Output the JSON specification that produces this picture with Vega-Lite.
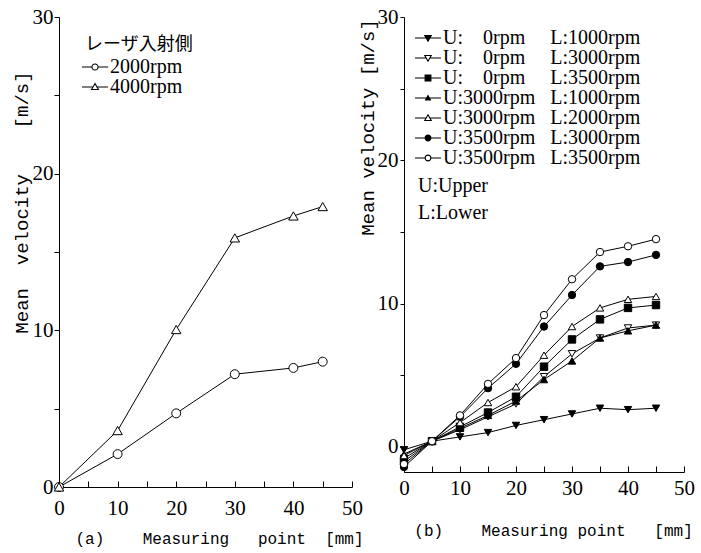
{
  "$schema": "https://vega.github.io/schema/vega-lite/v6.json",
  "padding": {"left": 12, "top": 6, "right": 5, "bottom": 5},
  "background": "white",
  "datasets": {
    "a": [
      {"x": 0, "v": 0, "s": "2000rpm"},
      {"x": 10, "v": 2.1, "s": "2000rpm"},
      {"x": 20, "v": 4.7, "s": "2000rpm"},
      {"x": 30, "v": 7.2, "s": "2000rpm"},
      {"x": 40, "v": 7.6, "s": "2000rpm"},
      {"x": 45, "v": 8.0, "s": "2000rpm"},
      {"x": 0, "v": 0, "s": "4000rpm"},
      {"x": 10, "v": 3.6, "s": "4000rpm"},
      {"x": 20, "v": 10.05, "s": "4000rpm"},
      {"x": 30, "v": 15.9, "s": "4000rpm"},
      {"x": 40, "v": 17.3, "s": "4000rpm"},
      {"x": 45, "v": 17.9, "s": "4000rpm"}
    ],
    "b": [
      {"x": 0, "v": -0.2, "s": "U:\u00a0\u00a0\u00a0\u00a00rpm\u00a0\u00a0\u00a0\u00a0\u00a0L:1000rpm"},
      {"x": 5, "v": 0.4, "s": "U:\u00a0\u00a0\u00a0\u00a00rpm\u00a0\u00a0\u00a0\u00a0\u00a0L:1000rpm"},
      {"x": 10, "v": 0.7, "s": "U:\u00a0\u00a0\u00a0\u00a00rpm\u00a0\u00a0\u00a0\u00a0\u00a0L:1000rpm"},
      {"x": 15, "v": 1.0, "s": "U:\u00a0\u00a0\u00a0\u00a00rpm\u00a0\u00a0\u00a0\u00a0\u00a0L:1000rpm"},
      {"x": 20, "v": 1.5, "s": "U:\u00a0\u00a0\u00a0\u00a00rpm\u00a0\u00a0\u00a0\u00a0\u00a0L:1000rpm"},
      {"x": 25, "v": 1.9, "s": "U:\u00a0\u00a0\u00a0\u00a00rpm\u00a0\u00a0\u00a0\u00a0\u00a0L:1000rpm"},
      {"x": 30, "v": 2.3, "s": "U:\u00a0\u00a0\u00a0\u00a00rpm\u00a0\u00a0\u00a0\u00a0\u00a0L:1000rpm"},
      {"x": 35, "v": 2.7, "s": "U:\u00a0\u00a0\u00a0\u00a00rpm\u00a0\u00a0\u00a0\u00a0\u00a0L:1000rpm"},
      {"x": 40, "v": 2.6, "s": "U:\u00a0\u00a0\u00a0\u00a00rpm\u00a0\u00a0\u00a0\u00a0\u00a0L:1000rpm"},
      {"x": 45, "v": 2.7, "s": "U:\u00a0\u00a0\u00a0\u00a00rpm\u00a0\u00a0\u00a0\u00a0\u00a0L:1000rpm"},
      {"x": 0, "v": -0.8, "s": "U:\u00a0\u00a0\u00a0\u00a00rpm\u00a0\u00a0\u00a0\u00a0\u00a0L:3000rpm"},
      {"x": 5, "v": 0.4, "s": "U:\u00a0\u00a0\u00a0\u00a00rpm\u00a0\u00a0\u00a0\u00a0\u00a0L:3000rpm"},
      {"x": 10, "v": 1.2, "s": "U:\u00a0\u00a0\u00a0\u00a00rpm\u00a0\u00a0\u00a0\u00a0\u00a0L:3000rpm"},
      {"x": 15, "v": 2.1, "s": "U:\u00a0\u00a0\u00a0\u00a00rpm\u00a0\u00a0\u00a0\u00a0\u00a0L:3000rpm"},
      {"x": 20, "v": 3.0, "s": "U:\u00a0\u00a0\u00a0\u00a00rpm\u00a0\u00a0\u00a0\u00a0\u00a0L:3000rpm"},
      {"x": 25, "v": 4.9, "s": "U:\u00a0\u00a0\u00a0\u00a00rpm\u00a0\u00a0\u00a0\u00a0\u00a0L:3000rpm"},
      {"x": 30, "v": 6.5, "s": "U:\u00a0\u00a0\u00a0\u00a00rpm\u00a0\u00a0\u00a0\u00a0\u00a0L:3000rpm"},
      {"x": 35, "v": 7.6, "s": "U:\u00a0\u00a0\u00a0\u00a00rpm\u00a0\u00a0\u00a0\u00a0\u00a0L:3000rpm"},
      {"x": 40, "v": 8.3, "s": "U:\u00a0\u00a0\u00a0\u00a00rpm\u00a0\u00a0\u00a0\u00a0\u00a0L:3000rpm"},
      {"x": 45, "v": 8.5, "s": "U:\u00a0\u00a0\u00a0\u00a00rpm\u00a0\u00a0\u00a0\u00a0\u00a0L:3000rpm"},
      {"x": 0, "v": -1.0, "s": "U:\u00a0\u00a0\u00a0\u00a00rpm\u00a0\u00a0\u00a0\u00a0\u00a0L:3500rpm"},
      {"x": 5, "v": 0.4, "s": "U:\u00a0\u00a0\u00a0\u00a00rpm\u00a0\u00a0\u00a0\u00a0\u00a0L:3500rpm"},
      {"x": 10, "v": 1.4, "s": "U:\u00a0\u00a0\u00a0\u00a00rpm\u00a0\u00a0\u00a0\u00a0\u00a0L:3500rpm"},
      {"x": 15, "v": 2.4, "s": "U:\u00a0\u00a0\u00a0\u00a00rpm\u00a0\u00a0\u00a0\u00a0\u00a0L:3500rpm"},
      {"x": 20, "v": 3.5, "s": "U:\u00a0\u00a0\u00a0\u00a00rpm\u00a0\u00a0\u00a0\u00a0\u00a0L:3500rpm"},
      {"x": 25, "v": 5.6, "s": "U:\u00a0\u00a0\u00a0\u00a00rpm\u00a0\u00a0\u00a0\u00a0\u00a0L:3500rpm"},
      {"x": 30, "v": 7.5, "s": "U:\u00a0\u00a0\u00a0\u00a00rpm\u00a0\u00a0\u00a0\u00a0\u00a0L:3500rpm"},
      {"x": 35, "v": 8.9, "s": "U:\u00a0\u00a0\u00a0\u00a00rpm\u00a0\u00a0\u00a0\u00a0\u00a0L:3500rpm"},
      {"x": 40, "v": 9.7, "s": "U:\u00a0\u00a0\u00a0\u00a00rpm\u00a0\u00a0\u00a0\u00a0\u00a0L:3500rpm"},
      {"x": 45, "v": 9.9, "s": "U:\u00a0\u00a0\u00a0\u00a00rpm\u00a0\u00a0\u00a0\u00a0\u00a0L:3500rpm"},
      {"x": 0, "v": -0.5, "s": "U:3000rpm\u00a0\u00a0\u00a0L:1000rpm"},
      {"x": 5, "v": 0.4, "s": "U:3000rpm\u00a0\u00a0\u00a0L:1000rpm"},
      {"x": 10, "v": 1.3, "s": "U:3000rpm\u00a0\u00a0\u00a0L:1000rpm"},
      {"x": 15, "v": 2.2, "s": "U:3000rpm\u00a0\u00a0\u00a0L:1000rpm"},
      {"x": 20, "v": 3.2, "s": "U:3000rpm\u00a0\u00a0\u00a0L:1000rpm"},
      {"x": 25, "v": 4.7, "s": "U:3000rpm\u00a0\u00a0\u00a0L:1000rpm"},
      {"x": 30, "v": 6.0, "s": "U:3000rpm\u00a0\u00a0\u00a0L:1000rpm"},
      {"x": 35, "v": 7.6, "s": "U:3000rpm\u00a0\u00a0\u00a0L:1000rpm"},
      {"x": 40, "v": 8.1, "s": "U:3000rpm\u00a0\u00a0\u00a0L:1000rpm"},
      {"x": 45, "v": 8.5, "s": "U:3000rpm\u00a0\u00a0\u00a0L:1000rpm"},
      {"x": 0, "v": -0.6, "s": "U:3000rpm\u00a0\u00a0\u00a0L:2000rpm"},
      {"x": 5, "v": 0.4, "s": "U:3000rpm\u00a0\u00a0\u00a0L:2000rpm"},
      {"x": 10, "v": 1.7, "s": "U:3000rpm\u00a0\u00a0\u00a0L:2000rpm"},
      {"x": 15, "v": 3.1, "s": "U:3000rpm\u00a0\u00a0\u00a0L:2000rpm"},
      {"x": 20, "v": 4.2, "s": "U:3000rpm\u00a0\u00a0\u00a0L:2000rpm"},
      {"x": 25, "v": 6.4, "s": "U:3000rpm\u00a0\u00a0\u00a0L:2000rpm"},
      {"x": 30, "v": 8.4, "s": "U:3000rpm\u00a0\u00a0\u00a0L:2000rpm"},
      {"x": 35, "v": 9.7, "s": "U:3000rpm\u00a0\u00a0\u00a0L:2000rpm"},
      {"x": 40, "v": 10.3, "s": "U:3000rpm\u00a0\u00a0\u00a0L:2000rpm"},
      {"x": 45, "v": 10.5, "s": "U:3000rpm\u00a0\u00a0\u00a0L:2000rpm"},
      {"x": 0, "v": -1.4, "s": "U:3500rpm\u00a0\u00a0\u00a0L:3000rpm"},
      {"x": 5, "v": 0.4, "s": "U:3500rpm\u00a0\u00a0\u00a0L:3000rpm"},
      {"x": 10, "v": 2.1, "s": "U:3500rpm\u00a0\u00a0\u00a0L:3000rpm"},
      {"x": 15, "v": 4.1, "s": "U:3500rpm\u00a0\u00a0\u00a0L:3000rpm"},
      {"x": 20, "v": 5.8, "s": "U:3500rpm\u00a0\u00a0\u00a0L:3000rpm"},
      {"x": 25, "v": 8.4, "s": "U:3500rpm\u00a0\u00a0\u00a0L:3000rpm"},
      {"x": 30, "v": 10.6, "s": "U:3500rpm\u00a0\u00a0\u00a0L:3000rpm"},
      {"x": 35, "v": 12.6, "s": "U:3500rpm\u00a0\u00a0\u00a0L:3000rpm"},
      {"x": 40, "v": 12.9, "s": "U:3500rpm\u00a0\u00a0\u00a0L:3000rpm"},
      {"x": 45, "v": 13.4, "s": "U:3500rpm\u00a0\u00a0\u00a0L:3000rpm"},
      {"x": 0, "v": -1.2, "s": "U:3500rpm\u00a0\u00a0\u00a0L:3500rpm"},
      {"x": 5, "v": 0.4, "s": "U:3500rpm\u00a0\u00a0\u00a0L:3500rpm"},
      {"x": 10, "v": 2.2, "s": "U:3500rpm\u00a0\u00a0\u00a0L:3500rpm"},
      {"x": 15, "v": 4.4, "s": "U:3500rpm\u00a0\u00a0\u00a0L:3500rpm"},
      {"x": 20, "v": 6.2, "s": "U:3500rpm\u00a0\u00a0\u00a0L:3500rpm"},
      {"x": 25, "v": 9.2, "s": "U:3500rpm\u00a0\u00a0\u00a0L:3500rpm"},
      {"x": 30, "v": 11.7, "s": "U:3500rpm\u00a0\u00a0\u00a0L:3500rpm"},
      {"x": 35, "v": 13.6, "s": "U:3500rpm\u00a0\u00a0\u00a0L:3500rpm"},
      {"x": 40, "v": 14.0, "s": "U:3500rpm\u00a0\u00a0\u00a0L:3500rpm"},
      {"x": 45, "v": 14.5, "s": "U:3500rpm\u00a0\u00a0\u00a0L:3500rpm"}
    ]
  },
  "spacing": 52,
  "bounds": "flush",
  "config": {
    "view": {"stroke": null},
    "axis": {
      "grid": false,
      "domainColor": "black",
      "tickColor": "black",
      "labelColor": "black",
      "titleColor": "black",
      "labelFont": "Liberation Serif",
      "labelFontSize": 21,
      "labelFlush": false,
      "titleFont": "Liberation Mono",
      "titleFontWeight": "normal",
      "domainWidth": 1,
      "tickWidth": 1
    },
    "legend": {
      "labelFont": "Liberation Serif",
      "labelFontSize": 20,
      "labelColor": "black",
      "labelLimit": 0,
      "titleColor": "black",
      "titleFontWeight": "normal",
      "titleLimit": 0,
      "symbolStrokeColor": "black",
      "symbolStrokeWidth": 1.1,
      "symbolOpacity": 1,
      "rowPadding": -1,
      "labelOffset": 5
    }
  },
  "hconcat": [
    {
      "width": 293,
      "height": 470,
      "data": {"name": "a"},
      "encoding": {
        "x": {
          "field": "x", "type": "quantitative",
          "scale": {"domain": [0, 50], "nice": false},
          "axis": {
            "values": [0, 5, 10, 15, 20, 25, 30, 35, 40, 45, 50],
            "labelExpr": "datum.value % 10 === 0 ? datum.label : ''",
            "tickSize": -6,
            "labelPadding": 16,
            "title": "(a)\u00a0\u00a0\u00a0\u00a0Measuring\u00a0\u00a0\u00a0point\u00a0\u00a0[mm]",
            "titleFontSize": 16,
            "titleX": 160,
            "titleY": 51,
            "titleBaseline": "middle"
          }
        },
        "y": {
          "field": "v", "type": "quantitative",
          "scale": {"domain": [0, 30], "nice": false},
          "axis": {
            "values": [0, 5, 10, 15, 20, 25, 30],
            "labelExpr": "datum.value % 10 === 0 ? datum.label : ''",
            "tickSize": 5,
            "labelPadding": 1,
            "title": "Mean\u00a0\u00a0velocity\u00a0\u00a0\u00a0\u00a0[m/s]",
            "titleFontSize": 19,
            "titleX": -38,
            "titleY": 185,
            "titleBaseline": "middle"
          }
        }
      },
      "layer": [
        {
          "mark": {"type": "line", "color": "black", "strokeWidth": 1},
          "encoding": {"detail": {"field": "s"}}
        },
        {
          "mark": {"type": "point", "filled": true, "stroke": "black", "strokeWidth": 1, "opacity": 1},
          "encoding": {
            "shape": {"field": "s", "scale": {"domain": ["2000rpm", "4000rpm"], "range": ["circle", "triangle-up"]}, "legend": null},
            "fill": {"field": "s", "scale": {"domain": ["2000rpm", "4000rpm"], "range": ["white", "white"]}, "legend": null},
            "size": {"field": "s", "scale": {"domain": ["2000rpm", "4000rpm"], "range": [80, 90]}, "legend": null}
          }
        },
        {
          "mark": {"type": "point", "filled": true, "stroke": "black", "strokeWidth": 1.1, "opacity": 0, "size": 324},
          "encoding": {
            "shape": {
              "field": "s",
              "scale": {"domain": ["2000rpm", "4000rpm"], "range": [
                "M-1.45,0H-0.34M0.34,0H1.45M0.34,0A0.34,0.34,0,1,1,-0.34,0A0.34,0.34,0,1,1,0.34,0Z",
                "M-1.45,0H-0.2M0.2,0H1.45M0,-0.38L0.38,0.28L-0.38,0.28Z"
              ]},
              "legend": {
                "title": "レーザ入射側",
                "titleFont": "Noto Sans CJK JP",
                "titleFontSize": 18,
                "titlePadding": 3,
                "orient": "none",
                "legendX": 26,
                "legendY": 19,
                "symbolSize": 324,
                "encode": {"symbols": {"update": {"stroke": {"value": "black"}, "strokeWidth": {"value": 1.1}, "opacity": {"value": 1}}}}
              }
            },
            "fill": {
              "field": "s",
              "scale": {"domain": ["2000rpm", "4000rpm"], "range": ["white", "white"]},
              "legend": {
                "title": "レーザ入射側",
                "titleFont": "Noto Sans CJK JP",
                "titleFontSize": 18,
                "titlePadding": 3,
                "orient": "none",
                "legendX": 26,
                "legendY": 19,
                "symbolSize": 324,
                "encode": {"symbols": {"update": {"stroke": {"value": "black"}, "strokeWidth": {"value": 1.1}, "opacity": {"value": 1}}}}
              }
            }
          }
        }
      ],
      "resolve": {"scale": {"shape": "independent", "fill": "independent", "size": "independent"}}
    },
    {
      "width": 280,
      "height": 455,
      "data": {"name": "b"},
      "encoding": {
        "x": {
          "field": "x", "type": "quantitative",
          "scale": {"domain": [0, 50], "nice": false},
          "axis": {
            "values": [0, 5, 10, 15, 20, 25, 30, 35, 40, 45, 50],
            "labelExpr": "datum.value % 10 === 0 ? datum.label : ''",
            "tickSize": -6,
            "labelPadding": 11,
            "title": "(b)\u00a0\u00a0\u00a0\u00a0Measuring point\u00a0\u00a0\u00a0[mm]",
            "titleFontSize": 16,
            "titleX": 149,
            "titleY": 58,
            "titleBaseline": "middle"
          }
        },
        "y": {
          "field": "v", "type": "quantitative",
          "scale": {"domain": [-1.75, 30], "nice": false, "zero": false},
          "axis": {
            "values": [0, 5, 10, 15, 20, 25, 30],
            "labelExpr": "datum.value % 10 === 0 ? datum.label : ''",
            "tickSize": 4,
            "labelPadding": 2,
            "title": "Mean velocity [m/s]",
            "titleFontSize": 19,
            "titleX": -37,
            "titleY": 110,
            "titleBaseline": "middle"
          }
        }
      },
      "layer": [
        {
          "mark": {"type": "line", "color": "black", "strokeWidth": 1},
          "encoding": {"detail": {"field": "s"}}
        },
        {
          "mark": {"type": "point", "filled": true, "stroke": "black", "strokeWidth": 1, "opacity": 1},
          "encoding": {
            "shape": {"field": "s", "scale": {"domain": [
              "U:\u00a0\u00a0\u00a0\u00a00rpm\u00a0\u00a0\u00a0\u00a0\u00a0L:1000rpm",
              "U:\u00a0\u00a0\u00a0\u00a00rpm\u00a0\u00a0\u00a0\u00a0\u00a0L:3000rpm",
              "U:\u00a0\u00a0\u00a0\u00a00rpm\u00a0\u00a0\u00a0\u00a0\u00a0L:3500rpm",
              "U:3000rpm\u00a0\u00a0\u00a0L:1000rpm",
              "U:3000rpm\u00a0\u00a0\u00a0L:2000rpm",
              "U:3500rpm\u00a0\u00a0\u00a0L:3000rpm",
              "U:3500rpm\u00a0\u00a0\u00a0L:3500rpm"
            ], "range": ["triangle-down", "triangle-down", "square", "triangle-up", "triangle-up", "circle", "circle"]}, "legend": null},
            "fill": {"field": "s", "scale": {"domain": [
              "U:\u00a0\u00a0\u00a0\u00a00rpm\u00a0\u00a0\u00a0\u00a0\u00a0L:1000rpm",
              "U:\u00a0\u00a0\u00a0\u00a00rpm\u00a0\u00a0\u00a0\u00a0\u00a0L:3000rpm",
              "U:\u00a0\u00a0\u00a0\u00a00rpm\u00a0\u00a0\u00a0\u00a0\u00a0L:3500rpm",
              "U:3000rpm\u00a0\u00a0\u00a0L:1000rpm",
              "U:3000rpm\u00a0\u00a0\u00a0L:2000rpm",
              "U:3500rpm\u00a0\u00a0\u00a0L:3000rpm",
              "U:3500rpm\u00a0\u00a0\u00a0L:3500rpm"
            ], "range": ["black", "white", "black", "black", "white", "black", "white"]}, "legend": null},
            "size": {"field": "s", "scale": {"domain": [
              "U:\u00a0\u00a0\u00a0\u00a00rpm\u00a0\u00a0\u00a0\u00a0\u00a0L:1000rpm",
              "U:\u00a0\u00a0\u00a0\u00a00rpm\u00a0\u00a0\u00a0\u00a0\u00a0L:3000rpm",
              "U:\u00a0\u00a0\u00a0\u00a00rpm\u00a0\u00a0\u00a0\u00a0\u00a0L:3500rpm",
              "U:3000rpm\u00a0\u00a0\u00a0L:1000rpm",
              "U:3000rpm\u00a0\u00a0\u00a0L:2000rpm",
              "U:3500rpm\u00a0\u00a0\u00a0L:3000rpm",
              "U:3500rpm\u00a0\u00a0\u00a0L:3500rpm"
            ], "range": [55, 55, 36, 30, 55, 45, 100]}, "legend": null}
          }
        },
        {
          "mark": {"type": "point", "filled": true, "stroke": "black", "strokeWidth": 1.1, "opacity": 0, "size": 324},
          "encoding": {
            "shape": {
              "field": "s",
              "scale": {"domain": [
                "U:\u00a0\u00a0\u00a0\u00a00rpm\u00a0\u00a0\u00a0\u00a0\u00a0L:1000rpm",
                "U:\u00a0\u00a0\u00a0\u00a00rpm\u00a0\u00a0\u00a0\u00a0\u00a0L:3000rpm",
                "U:\u00a0\u00a0\u00a0\u00a00rpm\u00a0\u00a0\u00a0\u00a0\u00a0L:3500rpm",
                "U:3000rpm\u00a0\u00a0\u00a0L:1000rpm",
                "U:3000rpm\u00a0\u00a0\u00a0L:2000rpm",
                "U:3500rpm\u00a0\u00a0\u00a0L:3000rpm",
                "U:3500rpm\u00a0\u00a0\u00a0L:3500rpm"
              ], "range": [
                "M-1.45,0H1.45M0,0.36L0.36,-0.28L-0.36,-0.28Z",
                "M-1.45,0H-0.2M0.2,0H1.45M0,0.36L0.36,-0.28L-0.36,-0.28Z",
                "M-1.45,0H1.45M-0.32,-0.32H0.32V0.32H-0.32Z",
                "M-1.45,0H1.45M0,-0.27L0.27,0.21L-0.27,0.21Z",
                "M-1.45,0H-0.2M0.2,0H1.45M0,-0.36L0.36,0.28L-0.36,0.28Z",
                "M-1.45,0H1.45M0.32,0A0.32,0.32,0,1,1,-0.32,0A0.32,0.32,0,1,1,0.32,0Z",
                "M-1.45,0H-0.32M0.32,0H1.45M0.32,0A0.32,0.32,0,1,1,-0.32,0A0.32,0.32,0,1,1,0.32,0Z"
              ]},
              "legend": {
                "title": ["\u00a0U:Upper", "\u00a0\u00a0L:Lower"],
                "titleOrient": "bottom",
                "titleFont": "Liberation Serif",
                "titleFontSize": 20,
                "titleLineHeight": 27,
                "titlePadding": 8,
                "orient": "none",
                "legendX": 14,
                "legendY": 11,
                "symbolSize": 324,
                "encode": {"symbols": {"update": {"stroke": {"value": "black"}, "strokeWidth": {"value": 1.1}, "opacity": {"value": 1}}}}
              }
            },
            "fill": {
              "field": "s",
              "scale": {"domain": [
                "U:\u00a0\u00a0\u00a0\u00a00rpm\u00a0\u00a0\u00a0\u00a0\u00a0L:1000rpm",
                "U:\u00a0\u00a0\u00a0\u00a00rpm\u00a0\u00a0\u00a0\u00a0\u00a0L:3000rpm",
                "U:\u00a0\u00a0\u00a0\u00a00rpm\u00a0\u00a0\u00a0\u00a0\u00a0L:3500rpm",
                "U:3000rpm\u00a0\u00a0\u00a0L:1000rpm",
                "U:3000rpm\u00a0\u00a0\u00a0L:2000rpm",
                "U:3500rpm\u00a0\u00a0\u00a0L:3000rpm",
                "U:3500rpm\u00a0\u00a0\u00a0L:3500rpm"
              ], "range": ["black", "white", "black", "black", "white", "black", "white"]},
              "legend": {
                "title": ["\u00a0U:Upper", "\u00a0\u00a0L:Lower"],
                "titleOrient": "bottom",
                "titleFont": "Liberation Serif",
                "titleFontSize": 20,
                "titleLineHeight": 27,
                "titlePadding": 8,
                "orient": "none",
                "legendX": 14,
                "legendY": 11,
                "symbolSize": 324,
                "encode": {"symbols": {"update": {"stroke": {"value": "black"}, "strokeWidth": {"value": 1.1}, "opacity": {"value": 1}}}}
              }
            }
          }
        }
      ],
      "resolve": {"scale": {"shape": "independent", "fill": "independent", "size": "independent"}}
    }
  ]
}
